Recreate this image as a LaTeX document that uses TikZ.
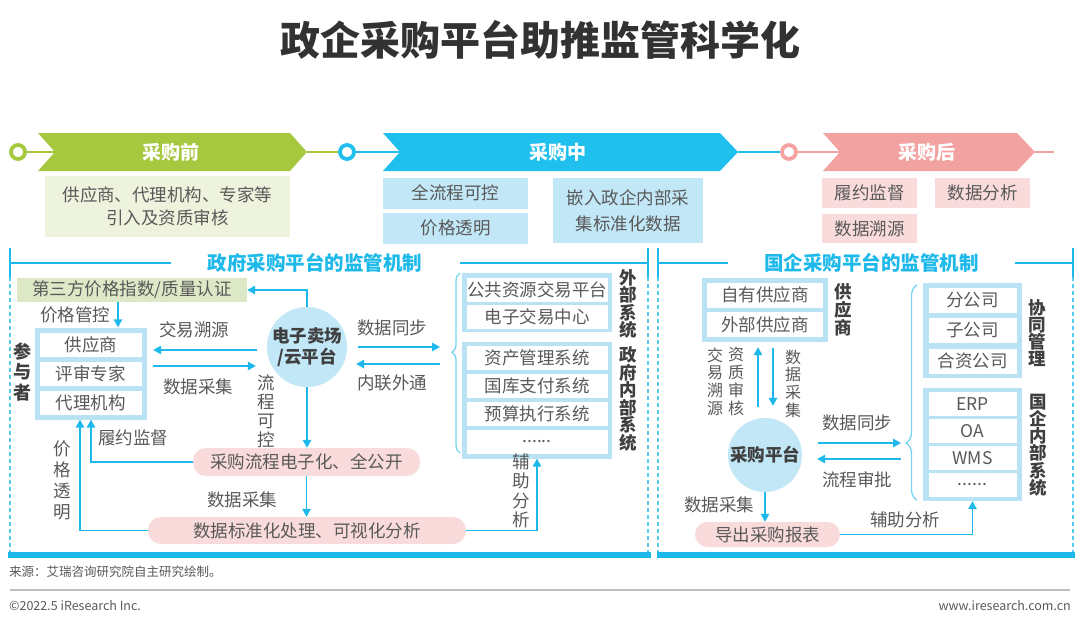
\documentclass[tikz,border=0pt]{standalone}
\usepackage{fontspec}
\setmainfont{Noto Sans CJK SC}
\usetikzlibrary{arrows.meta,decorations.pathreplacing}
\definecolor{ablue}{HTML}{1DB9EA}
\definecolor{sblue}{HTML}{20C0EE}
\definecolor{lblue}{HTML}{C2E7F7}
\definecolor{fblue}{HTML}{B9E3F5}
\definecolor{agreen}{HTML}{A6C83E}
\definecolor{lgreen}{HTML}{EEF3DE}
\definecolor{mgreen}{HTML}{DDE8C6}
\definecolor{apink}{HTML}{F3A2A2}
\definecolor{lpink}{HTML}{FADBDB}
\definecolor{tgray}{HTML}{595959}
\definecolor{dgray}{HTML}{3F3F3F}
\begin{document}
\begin{tikzpicture}[x=1pt,y=-1pt,
  txt/.style={text=tgray,inner sep=0pt,font=\fontsize{17.5}{21}\selectfont},
  cell/.style={txt,fill=white,minimum height=24pt},
  grp/.style={fill=fblue,inner sep=0pt},
  hub/.style={circle,fill=lblue,text=dgray,inner sep=0pt,align=center,font=\fontsize{17.5}{21}\selectfont\bfseries},
  pill/.style={txt,fill=lpink,rounded corners=13pt},
  vtxt/.style={txt,align=center},
  vbold/.style={text=dgray,inner sep=0pt,align=center,font=\fontsize{17.5}{17.5}\selectfont\bfseries},
  arr/.style={ablue,line width=1.5pt,-{Triangle[length=8pt,width=8.5pt]}},
  ring/.style={circle,draw,fill=white,line width=3.8pt,minimum size=14pt,inner sep=0pt},
  stage/.style={text=white,inner sep=0pt,font=\fontsize{19}{22}\selectfont\bfseries},
  tbox/.style={txt,align=center},
  hdr/.style={text=ablue,inner sep=0pt,font=\fontsize{19.5}{22}\selectfont\bfseries},
  pline/.style={ablue,line width=2.5pt},
  sline/.style={ablue!75,line width=1.2pt,dash pattern=on 4pt off 3pt},
  brc/.style={ablue!60,line width=1.3pt,decorate}
]
\path[fill=white,use as bounding box] (0,0) rectangle (1080,626);

\node[text=dgray!80!black,inner sep=0pt,font=\fontsize{40}{44}\selectfont\bfseries] (title) at (540,40) {政企采购平台助推监管科学化};

\node[ring,draw=agreen] (r1) at (18,152) {};
\node[ring,draw=sblue] (r2) at (347,152) {};
\node[ring,draw=apink] (r3) at (789,152) {};
\coordinate (n1) at (55,152); \coordinate (t1) at (307,152);
\coordinate (n2) at (400,152); \coordinate (t2) at (738,152);
\coordinate (n3) at (840,152); \coordinate (t3) at (1035,152);
\coordinate (e3) at (1054,152);
\draw[agreen,line width=2pt] (r1) -- (n1) (t1) -- (r2);
\draw[sblue,line width=2pt] (r2) -- (n2) (t2) -- (r3);
\draw[apink,line width=2pt] (r3) -- (n3) (t3) -- (e3);
\fill[agreen] (38,133) -- (290,133) -- (t1) -- (290,171) -- (38,171) -- (n1) -- cycle;
\fill[sblue] (383,133) -- (720,133) -- (t2) -- (720,171) -- (383,171) -- (n2) -- cycle;
\fill[apink] (823,133) -- (1017,133) -- (t3) -- (1017,171) -- (823,171) -- (n3) -- cycle;
\node[stage] (pre) at (171,152) {采购前};
\node[stage] (mid) at (558,152) {采购中};
\node[stage] (post) at (927,152) {采购后};

\node[tbox,fill=lgreen,minimum width=245pt,minimum height=61pt,font=\fontsize{17.5}{23}\selectfont] (pre1) at (167.5,206.5) {供应商、代理机构、专家等\\引入及资质审核};
\node[tbox,fill=lblue,minimum width=145pt,minimum height=31pt] (mid1) at (455.5,193) {全流程可控};
\node[tbox,fill=lblue,minimum width=145pt,minimum height=31pt] (mid2) at (455.5,228) {价格透明};
\node[tbox,fill=lblue,minimum width=150pt,minimum height=65pt,font=\fontsize{17.5}{26}\selectfont] (mid3) at (628,210.5) {嵌入政企内部采\\集标准化数据};
\node[tbox,fill=lpink,minimum width=95pt,minimum height=30pt] (post1) at (869.5,193) {履约监督};
\node[tbox,fill=lpink,minimum width=95pt,minimum height=30pt] (post2) at (982.5,193) {数据分析};
\node[tbox,fill=lpink,minimum width=95pt,minimum height=29pt] (post3) at (869.5,228.5) {数据溯源};

\node[hdr] (gtitle) at (315,263) {政府采购平台的监管机制};
\draw[pline] (10,248) -- (10,277) (10,263) -- ([xshift=-37pt]gtitle.west);
\draw[pline] ([xshift=38pt]gtitle.east) -- (648,263) (648,248) -- (648,277);
\draw[sline] (10,277) -- (10,552) (648,277) -- (648,552);
\draw[ablue,line width=6pt] (8,555) -- (651,555);

\node[hdr] (qtitle) at (871.5,263) {国企采购平台的监管机制};
\draw[pline] (658,248) -- (658,277) (658,263) -- ([xshift=-36pt]qtitle.west);
\draw[pline] ([xshift=36pt]qtitle.east) -- (1073,263) (1073,248) -- (1073,277);
\draw[sline] (658,277) -- (658,552) (1073,277) -- (1073,552);
\draw[ablue,line width=6pt] (657,555) -- (1075,555);

\node[txt,fill=mgreen,minimum width=230pt,minimum height=24pt] (tp) at (132,290) {第三方价格指数/质量认证};
\node[grp,minimum width=112pt,minimum height=92pt] (ppl) at (91,373.5) {};
\foreach \lab/\yy [count=\i] in {供应商/345,评审专家/374,代理机构/403}
  \node[cell,minimum width=102pt] (pt\i) at (91,\yy) {\lab};
\node[vbold,font=\fontsize{18}{20.5}\selectfont\bfseries] (who) at (22,372) {参\\与\\者};
\node[hub,minimum size=78pt] (hub1) at (307,347) {电子卖场\\/云平台};

\node[grp,minimum width=150pt,minimum height=59pt] (ext) at (537,302) {};
\foreach \lab/\yy [count=\i] in {公共资源交易平台/289.5,电子交易中心/316.5}
  \node[cell,minimum width=141pt] (ex\i) at (537,\yy) {\lab};
\node[grp,minimum width=150pt,minimum height=117pt] (gov) at (537,400) {};
\foreach \lab/\yy [count=\i] in {资产管理系统/358,国库支付系统/386,预算执行系统/414}
  \node[cell,minimum width=141pt] (gv\i) at (537,\yy) {\lab};
\node[cell,minimum width=141pt] (gv4) at (537,442) {......};
\node[vbold] (extl) at (628,304) {外\\部\\系\\统};
\node[vbold] (govl) at (628,399) {政\\府\\内\\部\\系\\统};
\draw[brc,decoration={brace,amplitude=8pt,aspect=0.56}] (460,453) -- (460,273);
\coordinate (b1) at (452,352);

\node[pill,minimum width=227pt,minimum height=28pt] (flow) at (306.5,462) {采购流程电子化、全公开};
\node[pill,minimum width=318pt,minimum height=27pt] (std) at (307,530.5) {数据标准化处理、可视化分析};

\coordinate (pc) at (118,0);
\draw[arr] (hub1.north) |- (tp.east);
\draw[arr] (tp.south -| pc) -- (ppl.north -| pc);
\draw[arr,shorten <=10pt,shorten >=6pt] ([yshift=-3pt]hub1.west) -- ([yshift=-3pt]hub1.west -| ppl.east);
\draw[arr,shorten <=6pt,shorten >=11pt] ([yshift=-19pt]hub1.west -| ppl.east) -- ([yshift=-19pt]hub1.west);
\draw[arr,shorten <=11pt,shorten >=12pt] (hub1.east) -- (hub1.east -| b1);
\draw[arr,shorten <=12pt,shorten >=9pt] ([yshift=-17pt]hub1.east -| b1) -- ([yshift=-17pt]hub1.east);
\draw[arr] (hub1.south) -- (hub1.south |- flow.north);
\draw[arr] (flow.south) -- (flow.south |- std.north);
\draw[arr] (flow.west) -| (ppl.south);
\draw[arr] (std.west) -| ([xshift=-11pt]ppl.south);
\draw[arr] (std.east) -| (gov.south);

\node[txt] (l1) at (75,315) {价格管控};
\node[txt] (l2) at (194,330) {交易溯源};
\node[txt] (l3) at (198,387) {数据采集};
\node[txt] (l4) at (392,328) {数据同步};
\node[txt] (l5) at (392,383) {内联外通};
\node[txt] (l6) at (133,438) {履约监督};
\node[txt] (l7) at (242,500) {数据采集};
\node[vtxt,font=\fontsize{17.5}{19}\selectfont] (l8) at (266,411.5) {流\\程\\可\\控};
\node[vtxt] (l9) at (62,480) {价\\格\\透\\明};
\node[vtxt,font=\fontsize{17.5}{19.5}\selectfont] (l10) at (521,491) {辅\\助\\分\\析};

\node[grp,minimum width=126pt,minimum height=64pt] (sgrp) at (765,310) {};
\foreach \lab/\yy [count=\i] in {自有供应商/295,外部供应商/324.5}
  \node[cell,minimum width=116pt,minimum height=25pt] (sp\i) at (765,\yy) {\lab};
\node[vbold,font=\fontsize{17.5}{18}\selectfont\bfseries] (supl) at (843,310) {供\\应\\商};
\node[grp,minimum width=99pt,minimum height=95pt] (cgrp) at (972.5,330.5) {};
\foreach \lab/\yy [count=\i] in {分公司/300,子公司/330,合资公司/361}
  \node[cell,minimum width=88pt,minimum height=25pt] (co\i) at (972.5,\yy) {\lab};
\node[grp,minimum width=99pt,minimum height=113pt] (igrp) at (972.5,444.5) {};
\foreach \lab/\yy [count=\i] in {ERP/404,OA/431,WMS/458}
  \node[cell,minimum width=88pt] (in\i) at (972.5,\yy) {\lab};
\node[cell,minimum width=88pt] (in4) at (972.5,485) {......};
\node[vbold,font=\fontsize{17.5}{17}\selectfont\bfseries] (col) at (1037,333) {协\\同\\管\\理};
\node[vbold,font=\fontsize{17.5}{17.2}\selectfont\bfseries] (inl) at (1038,445) {国\\企\\内\\部\\系\\统};
\draw[brc,decoration={brace,amplitude=11pt,aspect=0.265}] (917,500) -- (917,285);
\coordinate (b2) at (906,443);
\node[hub,minimum size=74pt] (hub2) at (765,455) {采购平台};
\node[pill,minimum width=145pt,minimum height=25pt,rounded corners=12.5pt] (rpt) at (767.5,534.5) {导出采购报表};

\draw[arr,shorten <=11pt,shorten >=5pt] ([xshift=-7pt]hub2.north) -- ([xshift=-7pt]hub2.north |- sgrp.south);
\draw[arr,shorten <=6pt,shorten >=12pt] ([xshift=8pt]hub2.north |- sgrp.south) -- ([xshift=8pt]hub2.north);
\draw[arr,shorten <=16pt,shorten >=5pt] ([yshift=12pt]hub2.east) -- ([yshift=12pt]hub2.east -| b2);
\draw[arr,shorten <=5pt,shorten >=15pt] ([yshift=-4pt]hub2.east -| b2) -- ([yshift=-4pt]hub2.east);
\draw[arr] (hub2.south) -- (hub2.south |- rpt.north);
\draw[arr] (rpt.east) -| (igrp.south);

\node[vtxt,font=\fontsize{16}{17.7}\selectfont] (r1l) at (715,381.5) {交\\易\\溯\\源};
\node[vtxt,font=\fontsize{16}{17.7}\selectfont] (r2l) at (736,381.5) {资\\质\\审\\核};
\node[vtxt,font=\fontsize{16}{17.7}\selectfont] (r3l) at (793,383.5) {数\\据\\采\\集};
\node[txt] (r4l) at (857,423) {数据同步};
\node[txt] (r5l) at (857,480) {流程审批};
\node[txt] (r6l) at (719,505) {数据采集};
\node[txt] (r7l) at (905,520) {辅助分析};

\node[anchor=west,text=tgray,inner sep=0pt,font=\fontsize{12.5}{14}\selectfont] (src) at (9,572) {来源：艾瑞咨询研究院自主研究绘制。};
\draw[black!25,line width=1.2pt] (10,590) -- (1070,590);
\node[anchor=west,text=tgray,inner sep=0pt,font=\fontsize{12.5}{14}\selectfont] (copy) at (9,606) {©2022.5 iResearch Inc.};
\node[anchor=east,text=tgray,inner sep=0pt,font=\fontsize{12.5}{14}\selectfont] (web) at (1071,606) {www.iresearch.com.cn};
\end{tikzpicture}
\end{document}
